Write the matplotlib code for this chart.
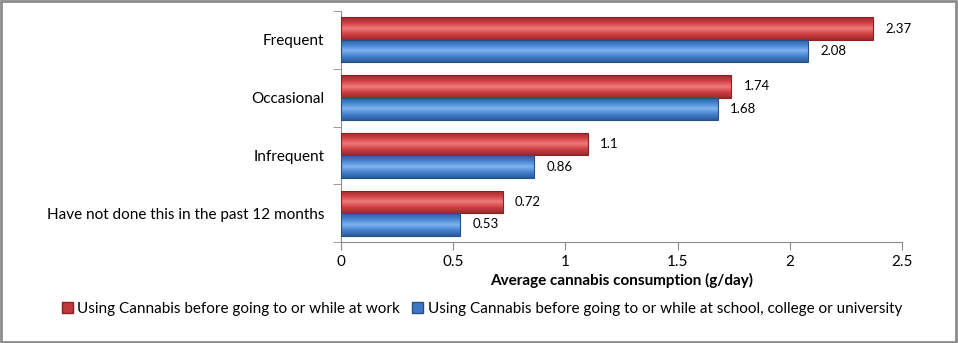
import numpy as np
import matplotlib.pyplot as plt
from matplotlib.patches import Rectangle
from matplotlib.colors import LinearSegmentedColormap

categories = ["Have not done this in the past 12 months", "Infrequent", "Occasional", "Frequent"]
work = [0.72, 1.1, 1.74, 2.37]
school = [0.53, 0.86, 1.68, 2.08]
work_label = "Using Cannabis before going to or while at work"
school_label = "Using Cannabis before going to or while at school, college or university"
xticks = [0, 0.5, 1, 1.5, 2, 2.5]

plt.rcParams['font.family'] = ['Lato', 'DejaVu Sans']

fig = plt.figure(figsize=(9.58, 3.43), dpi=100)
fig.patches.append(Rectangle((0.001, 0.002), 0.997, 0.995, transform=fig.transFigure,
                             fill=False, edgecolor='#8c8c8c', linewidth=2))
ax = fig.add_axes([341 / 958, 1 - 242 / 343, (902 - 341) / 958, (242 - 11) / 343])

y = np.arange(len(categories))
h = 0.39

def shade(bars, light, mid, dark):
    cmap = LinearSegmentedColormap.from_list("g", [dark, mid, light, mid, dark])
    grad = np.linspace(0, 1, 64).reshape(-1, 1)
    for b in bars:
        x0, y0 = b.get_x(), b.get_y()
        im = ax.imshow(grad, cmap=cmap, aspect='auto', origin='lower',
                       extent=[x0, x0 + b.get_width(), y0, y0 + b.get_height()], zorder=2)
        im.set_clip_path(b)

bw = ax.barh(y + h / 2, work, height=h, color='#c0393b', edgecolor='#8a2224', linewidth=0.8, zorder=3)
bs = ax.barh(y - h / 2, school, height=h, color='#3c78c3', edgecolor='#24508a', linewidth=0.8, zorder=3)
for b in list(bw) + list(bs):
    b.set_facecolor('none')
shade(bw, '#f07a7c', '#cf3f41', '#9a2a2c')
shade(bs, '#7fb3ef', '#4582cf', '#2b5c9c')

for i in range(len(categories)):
    ax.text(work[i] + 0.055, y[i] + h / 2, str(work[i]), va='center', ha='left', fontsize=9.5)
    ax.text(school[i] + 0.055, y[i] - h / 2, str(school[i]), va='center', ha='left', fontsize=9.5)

ax.set_xlim(0, 2.5)
ax.set_ylim(-0.5, len(categories) - 0.5)
ax.set_xticks(xticks)
ax.set_xticklabels([f"{t:g}" for t in xticks], fontsize=11)
ax.set_yticks(y)
ax.set_yticklabels(categories, fontsize=11)
ax.set_yticks(np.arange(-0.5, len(categories)), minor=True)
ax.tick_params(axis='y', which='major', length=0, pad=12)
ax.tick_params(axis='y', which='minor', length=6, color='#8c8c8c')
ax.tick_params(axis='x', length=6, color='#8c8c8c', pad=3)
for s in ['top', 'right']:
    ax.spines[s].set_visible(False)
for s in ['left', 'bottom']:
    ax.spines[s].set_color('#8c8c8c')
ax.set_xlabel("Average cannabis consumption (g/day)", fontsize=11, fontweight='bold', labelpad=3)

handles = [Rectangle((0, 0), 1, 1, facecolor='#c0393b', edgecolor='#8a2224'),
           Rectangle((0, 0), 1, 1, facecolor='#3c78c3', edgecolor='#24508a')]
fig.legend(handles, [work_label, school_label], loc='center', bbox_to_anchor=(482 / 958, 1 - 309 / 343),
           ncol=2, frameon=False, fontsize=11, handlelength=0.7, handleheight=0.7,
           handletextpad=0.3, columnspacing=0.8)

fig.savefig("out.png", dpi=100)
